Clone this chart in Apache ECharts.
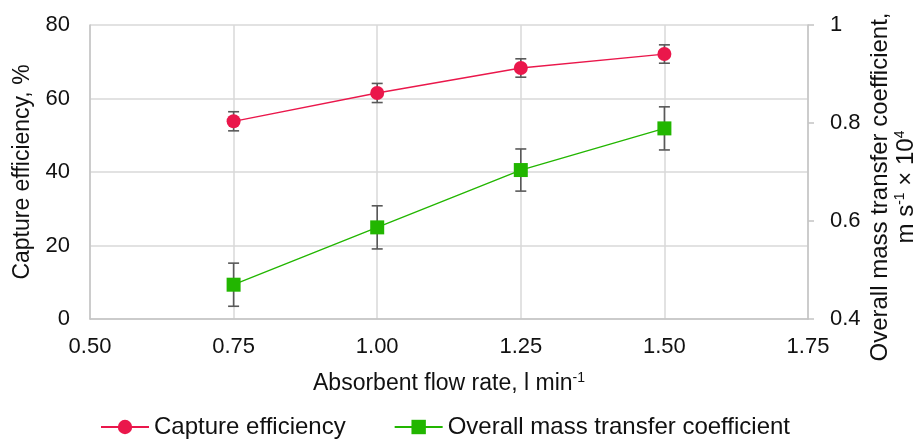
<!DOCTYPE html>
<html>
<head>
<meta charset="utf-8">
<script src="https://cdn.jsdelivr.net/npm/echarts@6/dist/echarts.min.js"></script>
<style>
  html, body { margin: 0; padding: 0; background: #fff; }
  #chart { width: 923px; height: 439px; }
</style>
</head>
<body>
<div id="chart"></div>
<script>
// Absorbent flow rate, l/min
const flowRates = [0.75, 1.00, 1.25, 1.50];
// Capture efficiency, % (left axis) with ± error
const captureEff = [53.8, 61.5, 68.3, 72.1];
const captureErr = [2.6, 2.6, 2.5, 2.5];
// Overall mass transfer coefficient, m/s × 10^4 (right axis) with ± error
const massTransfer = [0.470, 0.587, 0.704, 0.789];
const massTransferErr = [0.044, 0.044, 0.043, 0.044];

const RED = '#EA174B';
const GREEN = '#22B600';
const FONT = '"Liberation Sans", Arial, sans-serif';
const TXT = '#111';

function pairs(xs, ys) { return xs.map((x, i) => [x, ys[i]]); }
function errRows(xs, ys, es) { return xs.map((x, i) => [x, ys[i] - es[i], ys[i] + es[i]]); }

function errorBar(params, api) {
  const x = api.value(0);
  const lo = api.coord([x, api.value(1)]);
  const hi = api.coord([x, api.value(2)]);
  const w = 5.5;
  const style = { stroke: '#595959', lineWidth: 1.6, fill: null };
  return {
    type: 'group',
    children: [
      { type: 'line', shape: { x1: lo[0], y1: lo[1], x2: hi[0], y2: hi[1] }, style },
      { type: 'line', shape: { x1: lo[0] - w, y1: lo[1], x2: lo[0] + w, y2: lo[1] }, style },
      { type: 'line', shape: { x1: hi[0] - w, y1: hi[1], x2: hi[0] + w, y2: hi[1] }, style }
    ]
  };
}

const chart = echarts.init(document.getElementById('chart'), null, { renderer: 'canvas' });

chart.setOption({
  animation: false,
  textStyle: { fontFamily: FONT, color: TXT },
  grid: { left: 90, right: 115, top: 25, bottom: 120, containLabel: false },
  xAxis: {
    type: 'value',
    min: 0.5, max: 1.75, interval: 0.25,
    name: 'Absorbent flow rate, l min{sup|-1}',
    nameLocation: 'middle',
    nameGap: 52,
    nameTextStyle: {
      fontFamily: FONT, fontSize: 23, color: TXT,
      rich: { sup: { fontFamily: FONT, fontSize: 14, color: TXT, verticalAlign: 'top', lineHeight: 26 } }
    },
    axisLine: { show: true, lineStyle: { color: '#c4c4c4', width: 1.5 } },
    axisTick: { show: false },
    axisLabel: { fontFamily: FONT, fontSize: 22, color: TXT, margin: 17, formatter: v => v.toFixed(2) },
    splitLine: { show: true, lineStyle: { color: '#d9d9d9', width: 1.5 } }
  },
  yAxis: [
    {
      type: 'value',
      min: 0, max: 80, interval: 20,
      name: 'Capture efficiency, %',
      nameLocation: 'middle',
      nameGap: 42,
      nameTextStyle: { fontFamily: FONT, fontSize: 23, color: TXT },
      axisLine: { show: true, lineStyle: { color: '#c4c4c4', width: 1.5 } },
      axisTick: { show: false },
      axisLabel: { fontFamily: FONT, fontSize: 22, color: TXT, margin: 20 },
      splitLine: { show: true, lineStyle: { color: '#d9d9d9', width: 1.5 } }
    },
    {
      type: 'value',
      position: 'right',
      min: 0.4, max: 1, interval: 0.2,
      axisLine: { show: true, lineStyle: { color: '#c4c4c4', width: 1.5 } },
      axisTick: { show: true, inside: false, length: 6, lineStyle: { color: '#c4c4c4', width: 1.5 } },
      axisLabel: {
        fontFamily: FONT, fontSize: 22, color: TXT, margin: 22,
        formatter: v => String(Math.round(v * 10) / 10)
      },
      splitLine: { show: false }
    }
  ],
  legend: {
    left: 95,
    top: 410,
    itemWidth: 48,
    itemHeight: 18,
    itemGap: 48,
    textStyle: { fontFamily: FONT, fontSize: 24, color: TXT },
    data: ['Capture efficiency', 'Overall mass transfer coefficient']
  },
  graphic: [
    {
      type: 'text',
      x: 893, y: 187,
      rotation: Math.PI / 2,
      style: {
        text: 'Overall mass transfer coefficient,\nm s{sup|-1} × 10{sup|4}',
        fontFamily: FONT, fontSize: 24, fill: TXT,
        align: 'center', verticalAlign: 'middle', lineHeight: 26,
        rich: { sup: { fontFamily: FONT, fontSize: 14, fill: TXT, verticalAlign: 'top', lineHeight: 26 } }
      }
    }
  ],
  series: [
    {
      name: 'Capture efficiency error',
      type: 'custom',
      xAxisIndex: 0, yAxisIndex: 0,
      z: 1,
      renderItem: errorBar,
      encode: { x: 0, y: [1, 2] },
      data: errRows(flowRates, captureEff, captureErr)
    },
    {
      name: 'Overall mass transfer coefficient error',
      type: 'custom',
      xAxisIndex: 0, yAxisIndex: 1,
      z: 1,
      renderItem: errorBar,
      encode: { x: 0, y: [1, 2] },
      data: errRows(flowRates, massTransfer, massTransferErr)
    },
    {
      name: 'Capture efficiency',
      type: 'line',
      yAxisIndex: 0,
      z: 3,
      symbol: 'circle',
      symbolSize: 14,
      itemStyle: { color: RED },
      lineStyle: { color: RED, width: 1.3 },
      data: pairs(flowRates, captureEff)
    },
    {
      name: 'Overall mass transfer coefficient',
      type: 'line',
      yAxisIndex: 1,
      z: 3,
      symbol: 'rect',
      symbolSize: 14,
      itemStyle: { color: GREEN },
      lineStyle: { color: GREEN, width: 1.3 },
      data: pairs(flowRates, massTransfer)
    }
  ]
});
</script>
</body>
</html>
